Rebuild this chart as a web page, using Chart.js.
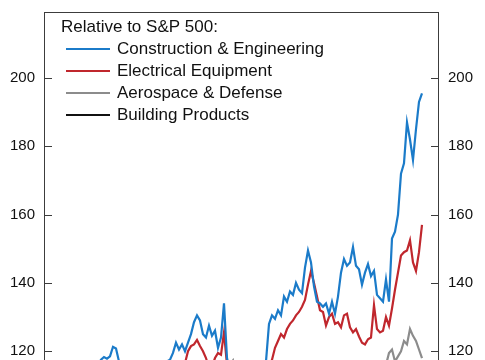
<!DOCTYPE html>
<html>
<head>
<meta charset="utf-8">
<script src="https://cdn.jsdelivr.net/npm/chart.js@4/dist/chart.umd.min.js"></script>
<style>
    html, body { margin: 0; padding: 0; background: #fff; overflow: hidden; }
    #caixa { position: relative; width: 485px; height: 400px; }
</style>
</head>
<body>
<div id="caixa"><canvas id="grafico"></canvas></div>
<script>
// semanas (posição no eixo x), o eixo de datas fica fora do recorte
const semanas = Array.from({ length: 127 }, (_, i) => i)

const tituloLegenda = 'Relative to S&P 500:'
const nomesSeries = ['Construction & Engineering', 'Electrical Equipment', 'Aerospace & Defense', 'Building Products']
const coresSeries = ['#1b7bc9', '#c0272d', '#8c8c8c', '#111111']
const ticksY = [120, 140, 160, 180, 200]

const construcao = [
    110, 109, 111, 112, 110, 108, 109, 111, 113, 112, 110, 111, 113, 114, 112, 111, 113, 115,
    116, 117.5, 118.3, 117.8, 118.5, 121.3, 120.8, 117, 115,
    113, 112, 114, 115, 113, 111, 112, 114, 116, 115, 113, 114, 115, 116, 117,
    117.5, 119.5, 122.5, 120.5, 122, 120, 122.5, 125, 128.5, 130.5, 129, 125, 124, 127.5, 124.5, 126, 121, 124, 134, 118,
    114, 112, 110, 111, 113, 112, 110, 111, 113, 114, 115, 116, 117,
    128, 130.5, 129.5, 132, 130.5, 136, 134.5, 137.5, 136.5, 140, 138, 137, 144.5, 149.5, 146, 139, 134.5, 134, 133, 134,
    131, 134.5, 131, 136, 143, 147, 145, 146, 150.5, 145, 144, 139.5, 143, 145.5, 142, 143.5, 136.5, 135.5, 134.5, 141,
    134.5, 153, 155, 160, 172, 175, 187, 182, 176, 185, 193, 195.5
]

const eletricos = [
    104, 103, 105, 106, 104, 102, 103, 105, 107, 106,
    104, 105, 107, 108, 106, 105, 107, 109, 110, 108,
    107, 109, 110, 109, 107, 106, 108, 109, 107, 106,
    108, 110, 111, 109, 108, 110, 111, 112, 110, 109,
    111, 112, 113, 112, 114, 113, 115,
    116.5, 120, 121.5, 122, 123.3, 121.5, 120, 118, 115, 115.5, 118, 119.5, 119, 125.5, 116,
    112, 110, 109, 110, 111, 110, 109, 110, 111,
    112, 113, 114, 115, 116, 117.5, 121, 123, 125, 124, 126.5, 128, 129, 130.5, 131.5, 133, 135, 139.5, 143.5,
    140, 136, 132, 131.5, 127.5, 130, 131, 128, 128.5, 127, 130.5, 131, 127, 125.5, 126.5, 124.3, 122.5, 122, 123.5,
    124, 133.5, 126.5, 125.5, 126, 130, 127.5, 132.5, 138, 143, 148, 149, 149.5, 152.5, 146, 143.5, 149, 157
]

const aeroespacial = [
    102, 101, 103, 104, 102, 100, 101, 103, 104, 103,
    102, 104, 105, 104, 103, 105, 106, 105, 104, 106,
    107, 106, 105, 107, 108, 107, 106, 108, 109, 108,
    107, 109, 110, 109, 108, 110, 111, 110, 109, 111,
    112, 111, 110, 112, 113, 112, 111, 113, 112, 111,
    110, 112, 113, 112, 114, 113, 112, 114, 115, 114,
    113, 114, 116, 117.3, 113, 111, 110, 109, 110, 108,
    107, 106, 108, 107, 105, 106, 107, 105, 104, 106,
    107, 108, 106, 105, 107, 108, 109, 107, 106, 108,
    109, 110, 108, 107, 109, 110, 111, 109, 110, 112,
    111, 113, 112, 114, 113, 115, 112, 113, 114, 112,
    113, 114, 112, 113, 116, 119.5, 120.5, 117, 118.5, 120,
    123, 122, 126.5, 124.5, 123, 120.5, 118
]

const construtivos = [
    98, 97, 99, 100, 98, 96, 97, 99, 100, 99,
    98, 100, 101, 100, 99, 101, 102, 101, 100, 102,
    103, 102, 101, 103, 104, 103, 102, 104, 105, 104,
    103, 105, 106, 105, 104, 106, 107, 106, 105, 107,
    108, 107, 106, 108, 109, 108, 107, 109, 108, 107,
    106, 108, 109, 108, 110, 109, 108, 110, 111, 110,
    109, 111, 112, 110, 108, 107, 106, 105, 106, 104,
    103, 102, 104, 103, 101, 102, 103, 101, 100, 102,
    103, 104, 102, 101, 103, 104, 105, 103, 102, 104,
    105, 106, 104, 103, 105, 106, 107, 105, 106, 108,
    107, 109, 108, 110, 109, 111, 108, 109, 110, 108,
    109, 110, 108, 109, 111, 112, 113, 110, 111, 112,
    113, 112, 114, 113, 112, 111, 110
]

const fonte = '"Liberation Sans", Arial, sans-serif'

// moldura do gráfico e marcas dos ticks para dentro
const moldura = {
    id: 'moldura',
    afterDraw(chart) {
        const { ctx, chartArea } = chart
        ctx.save()
        ctx.strokeStyle = '#3c3c3c'
        ctx.lineWidth = 1
        ctx.strokeRect(Math.round(chartArea.left) + 0.5, Math.round(chartArea.top) + 0.5,
            Math.round(chartArea.right - chartArea.left) - 1, Math.round(chartArea.bottom - chartArea.top))
        ctx.beginPath()
        ticksY.forEach(v => {
            const py = Math.round(chart.scales.y.getPixelForValue(v)) + 0.5
            ctx.moveTo(chartArea.left, py)
            ctx.lineTo(chartArea.left + 8, py)
            const py2 = Math.round(chart.scales.y2.getPixelForValue(v)) + 0.5
            ctx.moveTo(chartArea.right - 8, py2)
            ctx.lineTo(chartArea.right, py2)
        })
        ctx.stroke()
        ctx.restore()
    }
}

// legenda dentro da área do gráfico
const legendaInterna = {
    id: 'legendaInterna',
    afterDraw(chart) {
        const { ctx, chartArea } = chart
        ctx.save()
        ctx.font = '17px ' + fonte
        ctx.fillStyle = '#111'
        ctx.textBaseline = 'middle'
        ctx.fillText(tituloLegenda, chartArea.left + 17, 27)
        chart.data.datasets.forEach((ds, i) => {
            const y = 49 + i * 22
            ctx.strokeStyle = ds.borderColor
            ctx.lineWidth = 2
            ctx.beginPath()
            ctx.moveTo(chartArea.left + 22, y)
            ctx.lineTo(chartArea.left + 66, y)
            ctx.stroke()
            ctx.fillStyle = '#111'
            ctx.fillText(ds.label, chartArea.left + 73, y)
        })
        ctx.restore()
    }
}

function eixoY(posicao, largura) {
    return {
        type: 'linear',
        position: posicao,
        min: 111.57,
        max: 219.33,
        afterBuildTicks: s => { s.ticks = ticksY.map(v => ({ value: v })) },
        afterFit: s => {
            s.width = largura
            s.paddingTop = 0
            s.paddingBottom = 0
        },
        grid: { display: false, drawTicks: false },
        border: { display: false },
        ticks: { color: '#111', padding: 9, font: { family: fonte, size: 15 } }
    }
}

const series = [construcao, eletricos, aeroespacial, construtivos]

new Chart(document.getElementById('grafico'), {
    type: 'line',
    data: {
        labels: semanas,
        datasets: series.map((valores, i) => ({
            label: nomesSeries[i],
            data: valores,
            borderColor: coresSeries[i],
            backgroundColor: coresSeries[i],
            borderWidth: 2.2,
            pointRadius: 0,
            tension: 0,
            yAxisID: 'y'
        }))
    },
    options: {
        responsive: true,
        maintainAspectRatio: false,
        animation: false,
        devicePixelRatio: 1,
        layout: { padding: { top: 12, bottom: 20, left: 0, right: 0 } },
        plugins: { legend: { display: false }, tooltip: { enabled: false } },
        scales: {
            x: { type: 'linear', min: 0, max: 131.67, display: false },
            y: eixoY('left', 44),
            y2: eixoY('right', 46)
        }
    },
    plugins: [moldura, legendaInterna]
})
</script>
</body>
</html>
